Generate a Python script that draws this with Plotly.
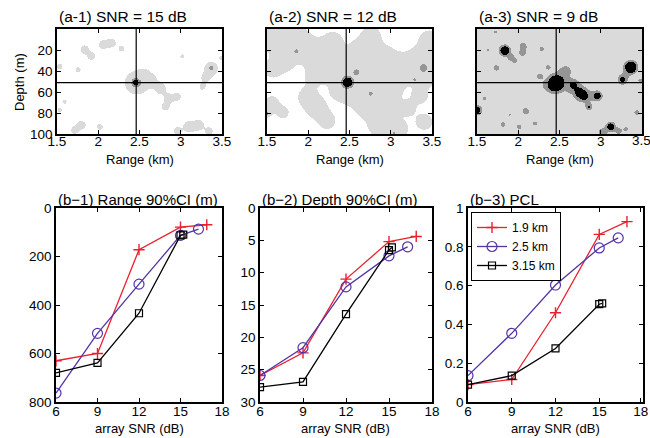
import numpy as np
import plotly.graph_objects as go

# ------------------------------------------------------------------ data
top_titles = ["(a-1) SNR = 15 dB", "(a-2) SNR = 12 dB", "(a-3) SNR = 9 dB"]
bottom_titles = ["(b\u22121) Range 90%CI (m)", "(b\u22122) Depth 90%CI (m)", "(b\u22123) PCL"]
series_names = ["1.9 km", "2.5 km", "3.15 km"]

range_ticks = [1.5, 2, 2.5, 3, 3.5]
depth_ticks = [20, 40, 60, 80, 100]
snr_ticks = [6, 9, 12, 15, 18]
rangeci_ticks = [0, 200, 400, 600, 800]
depthci_ticks = [0, 5, 10, 15, 20, 25, 30]
pcl_ticks = [0, 0.2, 0.4, 0.6, 0.8, 1]

snr_19 = [6, 9, 12, 15, 16.9]
snr_25 = [6, 9, 12, 15, 16.3]
snr_315 = [6, 9, 12, 15, 15.2]

range_ci_19 = [630, 600, 172, 79, 69]
range_ci_25 = [763, 517, 314, 113, 87]
range_ci_315 = [680, 639, 434, 113, 110]

depth_ci_19 = [25.9, 22.4, 11.0, 5.2, 4.4]
depth_ci_25 = [25.9, 21.6, 12.2, 7.4, 6.0]
depth_ci_315 = [27.7, 26.9, 16.4, 6.5, 6.1]

pcl_19 = [0.09, 0.116, 0.46, 0.864, 0.93]
pcl_25 = [0.136, 0.354, 0.603, 0.794, 0.846]
pcl_315 = [0.09, 0.136, 0.276, 0.504, 0.508]

source_range_km = 2.46
source_depth_m = 51

# ambiguity-surface features: (range km, depth m, radius m, level)
# level 1 = light grey, 2 = mid grey, 3 = black
blobs_a1 = [
    (2.457, 50.8, 2.5, 3), (2.470, 51.0, 8.0, 1),
    (2.547, 43.5, 4.2, 1), (2.628, 48.3, 5.3, 1), (2.749, 56.2, 5.0, 1),
    (2.851, 65.7, 4.3, 1), (2.810, 73.7, 3.4, 1), (2.952, 64.1, 3.4, 1),
    (1.837, 19.7, 4.0, 1), (1.918, 26.0, 3.4, 1), (2.060, 14.9, 4.0, 1),
    (2.161, 13.3, 4.0, 1), (2.283, 18.7, 2.7, 1), (1.756, 38.7, 2.4, 1),
    (1.532, 35.6, 2.7, 1), (3.013, 26.0, 1.8, 1), (3.358, 38.7, 4.8, 1),
    (3.366, 37.1, 2.0, 2), (3.297, 46.7, 4.0, 1), (3.257, 54.6, 2.7, 1),
    (3.488, 27.6, 2.0, 1), (1.796, 91.1, 4.0, 1), (1.715, 95.9, 3.4, 1),
    (2.019, 92.7, 2.7, 1), (1.532, 76.8, 2.0, 1), (1.593, 68.9, 1.8, 1),
    (3.094, 92.7, 5.3, 1), (3.216, 91.1, 4.6, 1), (3.338, 96.8, 3.4, 1),
    (2.952, 96.8, 3.4, 1),
]
blobs_a2 = [
    (2.474, 50.5, 4.2, 3), (2.579, 41.0, 2.5, 2),
    (1.857, 21.3, 1.9, 2), (3.390, 37.1, 3.6, 2), (3.285, 48.3, 1.3, 2),
    (2.749, 61.0, 1.9, 2), (1.500, 80.0, 1.3, 2), (3.033, 99.0, 1.3, 2),
    (1.560, 8.0, 11.0, 1), (1.720, 14.0, 11.0, 1), (1.880, 10.0, 10.0, 1),
    (2.000, 22.0, 11.0, 1), (2.170, 26.0, 10.0, 1), (2.300, 12.0, 9.0, 1),
    (1.570, 38.0, 8.0, 1), (1.720, 32.0, 7.5, 1), (2.220, 40.0, 9.0, 1),
    (2.060, 45.0, 7.0, 1), (2.340, 36.0, 7.5, 1),
    (1.990, 64.0, 8.5, 1), (2.100, 75.0, 9.0, 1), (2.230, 87.0, 7.5, 1),
    (1.560, 70.0, 6.5, 1), (1.690, 79.0, 5.5, 1),
    (2.390, 58.0, 9.0, 1), (2.560, 61.0, 9.0, 1), (2.630, 44.0, 9.0, 1),
    (2.530, 30.0, 8.5, 1), (2.640, 18.0, 9.0, 1), (2.760, 6.0, 8.0, 1),
    (2.880, 26.0, 10.5, 1), (3.020, 36.0, 10.5, 1), (3.170, 40.0, 10.5, 1),
    (3.340, 28.0, 10.5, 1), (3.460, 10.0, 8.5, 1), (3.450, 45.0, 8.5, 1),
    (2.820, 50.0, 10.5, 1), (2.990, 58.0, 10.0, 1), (2.700, 73.0, 10.5, 1),
    (2.900, 77.0, 10.0, 1), (2.850, 93.0, 9.0, 1), (3.100, 95.0, 8.0, 1),
    (3.400, 88.0, 7.5, 1), (3.350, 63.0, 7.0, 1), (3.200, 75.0, 6.5, 1),
]
blobs_a3 = [
    (2.474, 50.5, 6.0, 3), (2.430, 53.0, 4.5, 3),
    (2.567, 40.3, 4.5, 2), (2.352, 53.0, 3.0, 2), (2.263, 45.1, 2.5, 2),
    (2.620, 55.0, 3.2, 2),
    (2.660, 53.0, 2.9, 3), (2.729, 59.4, 3.8, 3), (2.790, 63.2, 3.8, 3),
    (2.851, 73.7, 1.2, 3), (2.952, 63.2, 3.2, 3),
    (1.837, 20.6, 4.1, 3), (1.918, 27.6, 2.5, 2), (1.960, 30.5, 1.9, 2),
    (2.060, 16.5, 3.2, 2), (2.052, 22.9, 2.9, 2), (2.283, 19.0, 1.9, 2),
    (1.735, 37.1, 2.5, 2), (2.364, 36.5, 1.9, 2), (1.634, 19.7, 1.0, 2),
    (1.727, 2.9, 1.3, 2), (1.593, 65.7, 1.6, 2), (1.898, 81.0, 1.0, 2),
    (2.092, 77.8, 2.9, 2), (1.816, 90.5, 2.2, 2), (2.011, 92.7, 2.2, 2),
    (2.202, 89.5, 1.9, 2), (3.431, 79.0, 2.2, 2), (3.297, 94.9, 1.9, 2),
    (3.472, 49.2, 1.6, 2), (3.216, 96.8, 2.5, 2), (3.013, 98.1, 3.2, 2),
    (3.358, 36.5, 5.4, 3), (3.257, 48.3, 2.5, 3), (1.500, 76.8, 3.2, 3),
    (3.115, 92.7, 3.2, 3),
]
background_levels = [0, 0, 1]

# ------------------------------------------------------------------ surfaces
range_grid = np.linspace(1.5, 3.5, 331)
depth_grid = np.linspace(0, 100, 211)
KM_TO_M = 78.5  # aspect of the image panels (km displayed vs m displayed)


def build_surface(blobs, background):
    RR, DD = np.meshgrid(range_grid, depth_grid)
    fields = {1: np.zeros(RR.shape), 2: np.zeros(RR.shape), 3: np.zeros(RR.shape)}
    for r0, d0, rad, lev in blobs:
        entries = [(rad, lev)]
        if lev == 3:
            entries += [(rad + 1.8, 2), (rad + 5.0, 1)]
        elif lev == 2:
            entries += [(rad + 2.5, 1)]
        d2 = ((RR - r0) * KM_TO_M) ** 2 + (DD - d0) ** 2
        for rr, L in entries:
            s2 = rr ** 2 / np.log(2)
            fields[L] += 2.0 * np.exp(-d2 / s2)
    out = np.full(RR.shape, float(background))
    for L in (1, 2, 3):
        out = np.where(fields[L] >= 1.0, np.maximum(out, L), out)
    return out


surfaces = [build_surface(b, bg) for b, bg in zip([blobs_a1, blobs_a2, blobs_a3], background_levels)]

# ------------------------------------------------------------------ layout geometry
W, H = 650, 438
FONT = "Liberation Sans, Arial, Helvetica, sans-serif"
TICK_SIZE = 13.5


def px_dom_x(a, b):
    return [a / W, b / W]


def px_dom_y(top, bottom):
    return [1 - bottom / H, 1 - top / H]


top_x = [(57, 222), (267, 432), (477, 642)]
top_y = (29, 134)
bot_x = [(56, 222), (260, 432), (468, 643)]
bot_y = (208, 402)

gray_scale = [[0, "#ffffff"], [0.25, "#ffffff"], [0.25, "#dadada"], [0.5, "#dadada"],
              [0.5, "#959595"], [0.75, "#959595"], [0.75, "#000000"], [1, "#000000"]]

fig = go.Figure()

for i, z in enumerate(surfaces):
    ax = "" if i == 0 else str(i + 1)
    fig.add_trace(go.Heatmap(x=range_grid, y=depth_grid, z=z, colorscale=gray_scale,
                             zmin=-0.5, zmax=3.5, showscale=False, hoverinfo="skip",
                             xaxis="x" + ax, yaxis="y" + ax))

colors = ["#e8202f", "#5433a6", "#000000"]
markers = [dict(symbol="cross-thin", size=8, line=dict(width=1.4, color=colors[0])),
           dict(symbol="circle-open", size=10, line=dict(width=1.2, color=colors[1])),
           dict(symbol="square-open", size=7, line=dict(width=1.2, color=colors[2]))]
snrs = [snr_19, snr_25, snr_315]
panel_series = [[range_ci_19, range_ci_25, range_ci_315],
                [depth_ci_19, depth_ci_25, depth_ci_315],
                [pcl_19, pcl_25, pcl_315]]

for p, series in enumerate(panel_series):
    ax = str(p + 4)
    for k, vals in enumerate(series):
        fig.add_trace(go.Scatter(x=snrs[k], y=vals, mode="lines+markers", name=series_names[k],
                                 line=dict(color=colors[k], width=1.3), marker=markers[k],
                                 showlegend=(p == 2), xaxis="x" + ax, yaxis="y" + ax))

axis_common = dict(showline=True, linecolor="black", linewidth=1.6, mirror="ticks",
                   ticks="inside", ticklen=4, tickwidth=1, tickcolor="black",
                   showgrid=False, zeroline=False, automargin=False,
                   ticklabeloverflow="allow",
                   tickfont=dict(family=FONT, size=TICK_SIZE, color="black"))

layout = dict(width=W, height=H, margin=dict(l=0, r=0, t=0, b=0, autoexpand=False),
              template="none",
              paper_bgcolor="white", plot_bgcolor="white",
              font=dict(family=FONT, color="black"))

ann = []

for i in range(3):
    ax = "" if i == 0 else str(i + 1)
    last = (i == 2)
    tv = range_ticks[:-1] if last else range_ticks
    layout["xaxis" + ax] = dict(axis_common, domain=px_dom_x(*top_x[i]), range=[1.5, 3.5],
                                tickvals=tv, anchor="y" + ax, ticklabelstandoff=-6)
    layout["yaxis" + ax] = dict(axis_common, domain=px_dom_y(*top_y), range=[100, 0],
                                tickvals=depth_ticks, showticklabels=(i == 0), anchor="x" + ax,
                                ticklabelstandoff=0)
    if last:
        # right-most label sits at the page edge: draw it as text so it is not dropped
        ann.append(dict(text="3.5", x=(top_x[i][1] - 1) / W, xref="paper", y=1 - 141 / H, yref="paper",
                        xanchor="center", yanchor="middle", showarrow=False,
                        font=dict(family=FONT, size=TICK_SIZE, color="black")))

bot_yranges = [[800, 0], [30, 0], [0, 1]]
bot_yticks = [rangeci_ticks, depthci_ticks, pcl_ticks]
for p in range(3):
    ax = str(p + 4)
    last = (p == 2)
    xaxis_def = dict(axis_common, domain=px_dom_x(*bot_x[p]), range=[6, 18],
                     tickvals=snr_ticks, anchor="y" + ax, ticklabelstandoff=-4)
    if last:
        # nudge the right-most label slightly inwards so it stays inside the page
        xaxis_def["tickvals"] = snr_ticks[:-1] + [snr_ticks[-1] - 0.15]
        xaxis_def["ticktext"] = [str(v) for v in snr_ticks]
    layout["xaxis" + ax] = xaxis_def
    layout["yaxis" + ax] = dict(axis_common, domain=px_dom_y(*bot_y), range=bot_yranges[p],
                                tickvals=bot_yticks[p], anchor="x" + ax, ticklabelstandoff=0)

shapes = []
for i in range(3):
    ax = "" if i == 0 else str(i + 1)
    shapes.append(dict(type="line", xref="x" + ax, yref="y" + ax + " domain",
                       x0=source_range_km, x1=source_range_km, y0=0, y1=1,
                       line=dict(color="black", width=1.2), layer="above"))
    shapes.append(dict(type="line", xref="x" + ax + " domain", yref="y" + ax,
                       x0=0, x1=1, y0=source_depth_m, y1=source_depth_m,
                       line=dict(color="black", width=1.2), layer="above"))
layout["shapes"] = shapes

for i in range(3):
    ann.append(dict(text=top_titles[i], x=top_x[i][0] / W, y=1 - 16 / H, xref="paper", yref="paper",
                    xanchor="left", yanchor="middle", showarrow=False,
                    font=dict(family=FONT, size=15.5, color="black")))
    ann.append(dict(text="Range (km)", x=(top_x[i][0] + top_x[i][1]) / 2 / W, y=1 - 159 / H,
                    xref="paper", yref="paper", xanchor="center", yanchor="middle", showarrow=False,
                    font=dict(family=FONT, size=13, color="black")))
    ann.append(dict(text=bottom_titles[i], x=bot_x[i][0] / W, y=1 - 199 / H, xref="paper", yref="paper",
                    xanchor="left", yanchor="middle", showarrow=False,
                    font=dict(family=FONT, size=15, color="black")))
    ann.append(dict(text="array SNR (dB)", x=(bot_x[i][0] + bot_x[i][1]) / 2 / W, y=1 - 428 / H,
                    xref="paper", yref="paper", xanchor="center", yanchor="middle", showarrow=False,
                    font=dict(family=FONT, size=13, color="black")))
ann.append(dict(text="Depth (m)", x=20 / W, y=1 - 82 / H, xref="paper", yref="paper",
                xanchor="center", yanchor="middle", textangle=-90, showarrow=False,
                font=dict(family=FONT, size=13, color="black")))
layout["annotations"] = ann

layout["legend"] = dict(x=471 / W, y=1 - 212 / H, xanchor="left", yanchor="top",
                        bgcolor="white", bordercolor="black", borderwidth=1,
                        font=dict(family=FONT, size=12, color="black"),
                        tracegroupgap=0, itemwidth=30)

fig.update_layout(**layout)
fig.write_html("out.html", config={"displayModeBar": False},
               post_script="document.body.style.margin='0px';")
